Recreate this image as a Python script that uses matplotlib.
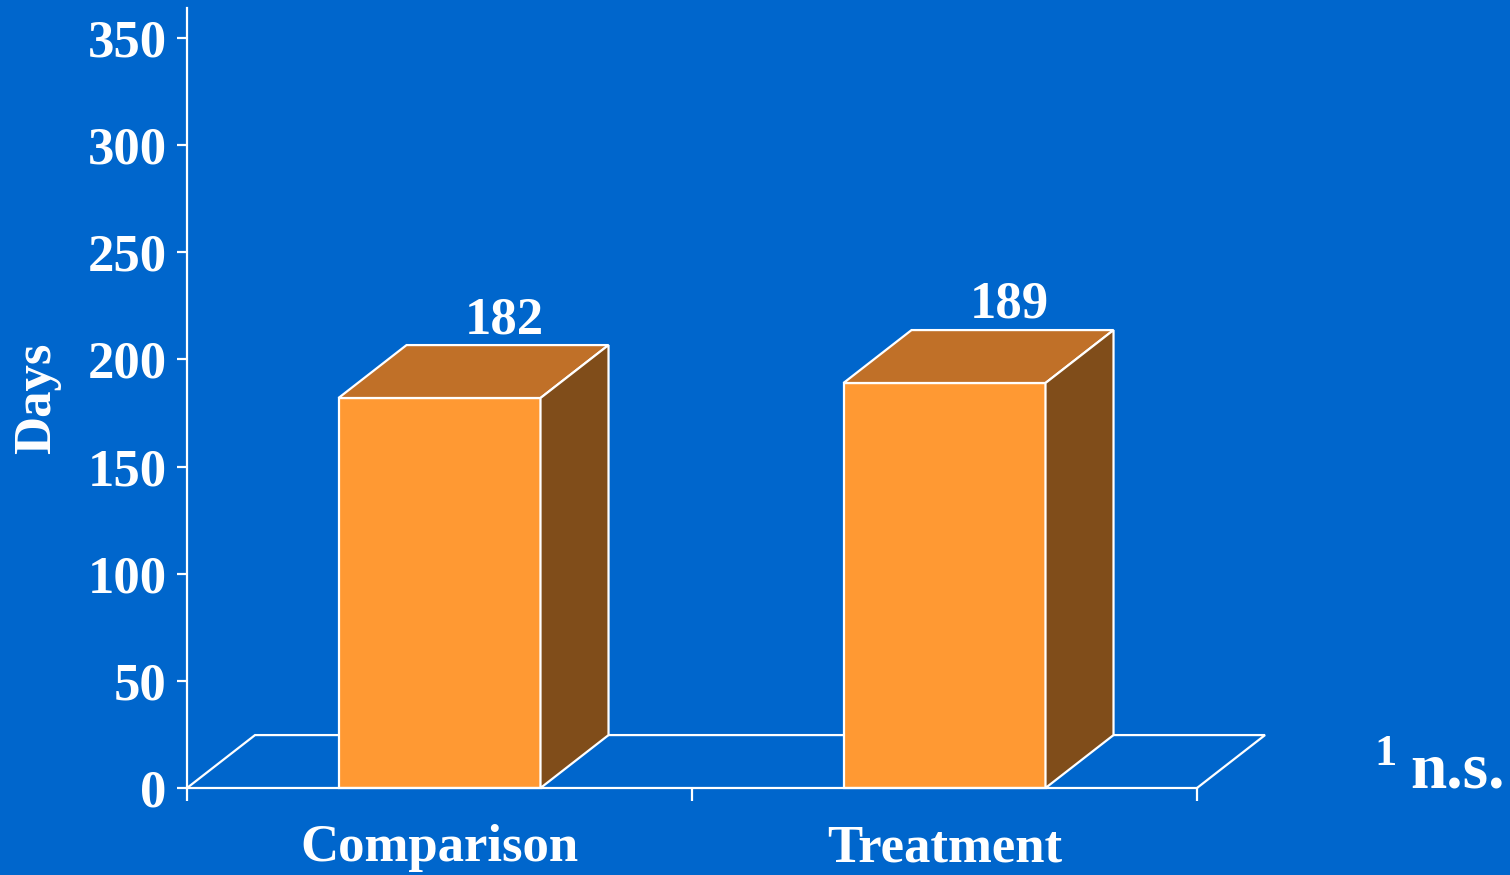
import matplotlib.pyplot as plt
from matplotlib.patches import Polygon

plt.rcParams['font.family'] = ['Liberation Serif', 'DejaVu Serif']
plt.rcParams['font.weight'] = 'bold'

# data
categories = ['Comparison', 'Treatment']
days = [182, 189]
yticks = [0, 50, 100, 150, 200, 250, 300, 350]

bg = '#0066CC'
front_c = '#FF9933'
top_c = '#C07028'
side_c = '#804D1A'

fig = plt.figure(figsize=(15.1, 8.75), dpi=100, facecolor=bg)
ax = fig.add_axes([187 / 1510, 87 / 875, 1010 / 1510, 780 / 875])
ax.set_facecolor(bg)
ax.set_xlim(0, len(categories))
ax.set_ylim(0, 364)

# depth offset of the 3D look (data units)
dx, dy = 0.1347, 24.7
width = 0.4

# floor
floor = [(0, 0), (dx, dy), (len(categories) + dx, dy), (len(categories), 0)]
ax.plot([p[0] for p in floor], [p[1] for p in floor], color='white', lw=1.6,
        clip_on=False, zorder=1, solid_joinstyle='miter')

for i, v in enumerate(days):
    x0 = i + 0.5 - width / 2
    x1 = x0 + width
    ec = dict(edgecolor='white', linewidth=1.6, joinstyle='miter', clip_on=False, zorder=3)
    ax.add_patch(Polygon([(x0, 0), (x1, 0), (x1, v), (x0, v)], facecolor=front_c, **ec))
    ax.add_patch(Polygon([(x0, v), (x1, v), (x1 + dx, v + dy), (x0 + dx, v + dy)],
                         facecolor=top_c, **ec))
    ax.add_patch(Polygon([(x1, 0), (x1 + dx, dy), (x1 + dx, v + dy), (x1, v)],
                         facecolor=side_c, **ec))
    ax.text(i + 0.5 + 0.128, v + dy + 0.5, str(v), ha='center', va='bottom',
            color='white', fontsize=38, fontweight='bold')

# axes styling
for s in ['top', 'right']:
    ax.spines[s].set_visible(False)
for s in ['left', 'bottom']:
    ax.spines[s].set_color('white')
    ax.spines[s].set_linewidth(1.6)
    ax.spines[s].set_zorder(4)

ax.set_yticks(yticks)
ax.set_yticklabels([str(t) for t in yticks])
ax.tick_params(axis='y', colors='white', length=7.5, width=1.6, pad=7, labelsize=38)
ax.set_xticks(range(len(categories) + 1))
ax.set_xticklabels([])
ax.tick_params(axis='x', colors='white', length=9, width=1.6)
ax.set_xticks([i + 0.5 for i in range(len(categories))], minor=True)
ax.set_xticklabels(categories, minor=True)
ax.tick_params(axis='x', which='minor', length=0, pad=26, labelsize=38, labelcolor='white')

ax.set_ylabel('Days', color='white', fontsize=38, fontweight='bold', labelpad=19)

fig.text(1385 / 1510, 1 - 754 / 875, '1', color='white', fontsize=32,
         fontweight='bold', ha='center', va='center')
fig.text(1458 / 1510, 1 - 788 / 875, 'n.s.', color='white', fontsize=47,
         fontweight='bold', ha='center', va='baseline')

fig.savefig('out.png', dpi=100, facecolor=bg)
